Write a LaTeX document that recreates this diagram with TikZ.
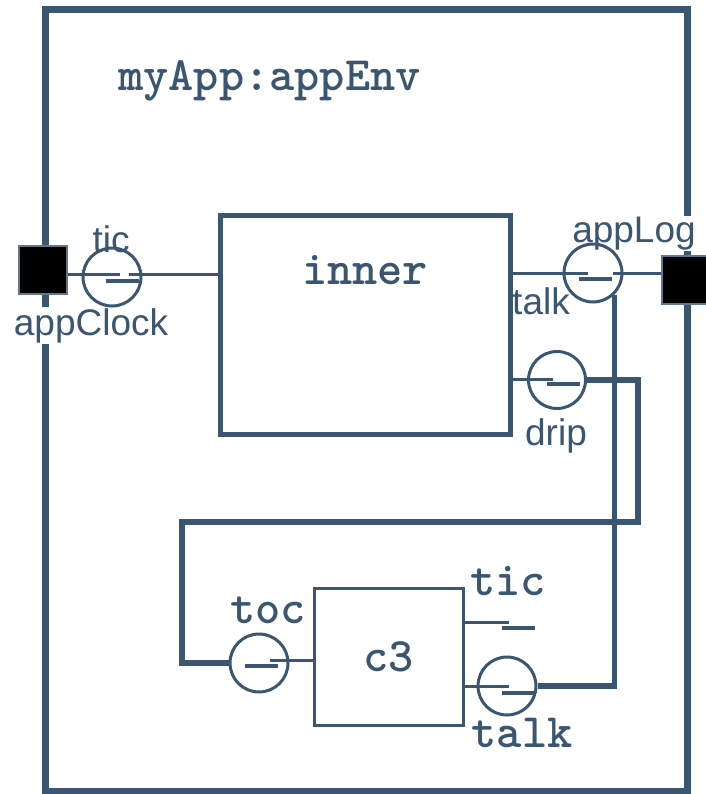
\documentclass[tikz,border=0pt]{standalone}
\usepackage{fontspec}
\setmainfont{Liberation Sans}
\usepackage{xcolor}
\definecolor{linec}{HTML}{3B5670}
\definecolor{portc}{HTML}{5F7890}
\usepackage{tikz}
\usetikzlibrary{calc}
\tikzset{
  frame/.style={draw=linec,line width=7pt,minimum width=642pt,minimum height=781pt,inner sep=0pt},
  comp/.style={draw=linec,line width=5pt,minimum width=290pt,minimum height=218pt,inner sep=0pt},
  subcomp/.style={comp,line width=3pt,minimum width=149pt,minimum height=137pt,
    font=\ttfamily\bfseries\fontsize{48}{50}\selectfont,text=linec},
  xport/.style={draw=portc,fill=black,line width=2pt,minimum size=48pt,inner sep=0pt},
  pcirc/.style={circle,draw=linec,line width=3pt,minimum size=58pt,inner sep=0pt},
  wire/.style={draw=linec,line width=3pt},
  bwire/.style={draw=linec,line width=5.5pt},
  mlbl/.style={font=\ttfamily\bfseries\fontsize{48}{50}\selectfont,text=linec,inner sep=1pt,anchor=base},
  slbl/.style={font=\fontsize{37}{40}\selectfont,text=linec,inner sep=1pt,anchor=base},
  pbar/.pic={\draw[linec,line width=4.5pt] (0,0) -- (33,0);},
}
\newcommand{\pwire}[3]{\coordinate (#2) at (#3); \draw[wire] (#1 |- #2) -- (#2);}

\begin{document}
\begin{tikzpicture}[x=1pt,y=-1pt]
  \useasboundingbox (0,0) rectangle (705,794);
  % Umgebung
  \node[frame] (env) at (366,400.5) {};
  \node[mlbl,anchor=base west] (title) at (117,91) {myApp:appEnv};
  % Komponenten
  \node[comp] (inner) at (365,325) {};
  \node[mlbl] (linner) at (365,284) {inner};
  \node[subcomp] (c3) at (388.5,656.5) {c3};
  % Randports
  \node[xport] (clk) at (43,270) {};
  \node[xport] (log) at (686,279.5) {};
  \node[slbl,fill=white] (lclk) at (91,335) {appClock};
  \node[slbl,fill=white] (llog) at (634,242) {appLog};
  % Ports
  \node[pcirc] (tcl) at (112,277) {};
  \node[pcirc] (tk) at (593,273) {};
  \node[pcirc,minimum size=57pt] (dr) at (557,380) {};
  \node[pcirc] (toc) at (259,663) {};
  \node[pcirc] (c3tk) at (507,686) {};
  \pic at (106,281) {pbar};
  \pic at (579,279) {pbar};
  \pic at (547,384) {pbar};
  \pic at (245,666) {pbar};
  \pic at (502,628) {pbar};
  \pic at (502,693) {pbar};
  \node[slbl] (ltic) at (111,252) {tic};
  \node[slbl] (ltalk) at (541,314) {talk};
  \node[slbl] (ldrip) at (556,445) {drip};
  \node[mlbl] (ltoc) at (268,623) {toc};
  \node[mlbl] (lctic) at (508,595) {tic};
  \node[mlbl] (lctalk) at (522,747) {talk};
  % Verbindungen
  \pwire{clk.east}{tcA}{120,274}
  \pwire{inner.west}{tcB}{129,274}
  \pwire{inner.east}{tkA}{588,273}
  \pwire{log.west}{tkB}{613,273}
  \pwire{inner.east}{drA}{553,379}
  \pwire{c3.west}{toA}{270,660}
  \pwire{c3.east}{tiA}{509,622}
  \pwire{c3.east}{ctA}{509,686}
  \draw[bwire] (dr.east) -- ++(51,0) |- (182,522) |- (toc.west);
  \draw[bwire] (c3tk.east) -| (tk.-45);
\end{tikzpicture}
\end{document}
